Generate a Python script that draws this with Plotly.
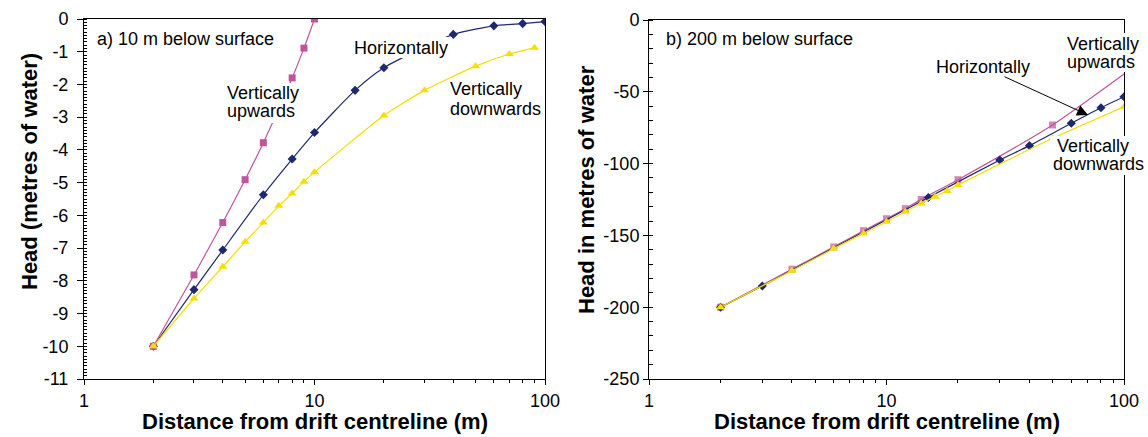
import plotly.graph_objects as go

W, H = 1148, 437

# ---------------- data: a) 10 m below surface ----------------
up_x_a = [2, 3, 4, 5, 6, 8, 9, 10]
up_y_a = [-10, -7.82, -6.22, -4.91, -3.78, -1.80, -0.89, 0]
hor_x_a = [2, 3, 4, 6, 8, 10, 15, 20, 40, 60, 80, 100]
hor_y_a = [-10, -8.27, -7.06, -5.37, -4.28, -3.47, -2.18, -1.49, -0.47, -0.21, -0.14, -0.08]
down_x_a = [2, 3, 4, 5, 6, 7, 8, 9, 10, 20, 30, 50, 70, 90]
down_y_a = [-10, -8.54, -7.57, -6.81, -6.22, -5.71, -5.33, -4.97, -4.68, -2.95, -2.18, -1.44, -1.07, -0.88]

# ---------------- data: b) 200 m below surface ----------------
up_x_b = [2, 4, 6, 8, 10, 12, 14, 20, 50, 100]
up_y_b = [-200, -173.5, -158.0, -146.7, -138.4, -131.4, -124.9, -111.2, -73.1, -37.6]
up_marker_b = [1, 1, 1, 1, 1, 1, 1, 1, 1, 0]   # no marker drawn at the line end
hor_x_b = [2, 3, 15, 30, 40, 60, 80, 100]
hor_y_b = [-200, -185.2, -123.6, -97.5, -87.5, -71.9, -61.1, -53.4]
down_x_b = [2, 4, 6, 8, 10, 12, 14, 16, 18, 20, 50, 100]
down_y_b = [-200, -174.6, -159.2, -148.6, -140.5, -133.5, -127.7, -123.0, -119.0, -114.9, -82.4, -60.4]

x_tickvals = [1, 10, 100]
x_ticktext = ["1", "10", "100"]
x_minor = [2, 3, 4, 5, 6, 7, 8, 9, 20, 30, 40, 50, 60, 70, 80, 90]
ya_vals = list(range(0, -12, -1))
ya_text = [str(v) for v in ya_vals]
yb_vals = [0, -50, -100, -150, -200, -250]
yb_text = [str(v) for v in yb_vals]

PINK = "#C2549C"
NAVY = "#1E2870"
YELLOW = "#F4E000"
FONT = "Liberation Sans, Arial, sans-serif"

fig = go.Figure()

def add_series(x, y, color, symbol, size, xa, ya, sizes=None):
    msize = size if sizes is None else [size * s for s in sizes]
    fig.add_trace(go.Scatter(
        x=x, y=y, mode="lines+markers", xaxis=xa, yaxis=ya,
        line=dict(color=color, width=1.2, shape="spline", smoothing=0.6),
        marker=dict(color=color, symbol=symbol, size=msize, line=dict(width=0)),
        showlegend=False, hoverinfo="skip"))

add_series(hor_x_a, hor_y_a, NAVY, "diamond", 7, "x", "y")
add_series(up_x_a, up_y_a, PINK, "square", 7, "x", "y")
add_series(down_x_a, down_y_a, YELLOW, "triangle-up", 8, "x", "y")

add_series(up_x_b, up_y_b, PINK, "square", 7, "x2", "y2", sizes=up_marker_b)
add_series(hor_x_b, hor_y_b, NAVY, "diamond", 7, "x2", "y2")
add_series(down_x_b, down_y_b, YELLOW, "triangle-up", 8, "x2", "y2")

xcommon = dict(type="log", range=[0, 2], tickmode="array", tickvals=x_tickvals,
               ticktext=x_ticktext, ticks="outside", ticklen=5, tickcolor="black",
               showline=True, linecolor="black", linewidth=1, mirror=True,
               showgrid=False, zeroline=False, automargin=False,
               tickfont=dict(size=18, color="black", family=FONT),
               minor=dict(tickmode="array", tickvals=x_minor, ticks="outside",
                          ticklen=3, tickcolor="black", showgrid=False))

fig.update_layout(
    width=W, height=H, autosize=False, margin=dict(l=0, r=0, t=0, b=0, pad=0),
    paper_bgcolor="white", plot_bgcolor="white",
    font=dict(family=FONT, color="black"),
    xaxis=dict(domain=[84 / W, 545 / W], anchor="y", **xcommon),
    xaxis2=dict(domain=[649 / W, 1124 / W], anchor="y2", **xcommon),
    yaxis=dict(domain=[58 / H, 418 / H], anchor="x", range=[-11, 0],
               tickmode="array", tickvals=ya_vals, ticktext=ya_text,
               ticks="outside", ticklen=6, tickcolor="black",
               showline=True, linecolor="black", linewidth=1, mirror=True,
               showgrid=False, zeroline=False, ticklabelstandoff=5, automargin=False,
               tickfont=dict(size=18, color="black", family=FONT),
               minor=dict(dtick=0.1, ticks="inside", ticklen=3, tickcolor="black", showgrid=False)),
    yaxis2=dict(domain=[58 / H, 417 / H], anchor="x2", range=[-250, 0],
                tickmode="array", tickvals=yb_vals, ticktext=yb_text,
                ticks="outside", ticklen=5, tickcolor="black",
                showline=True, linecolor="black", linewidth=1, mirror=True,
                showgrid=False, zeroline=False, ticklabelstandoff=0, automargin=False,
                tickfont=dict(size=18, color="black", family=FONT),
                minor=dict(dtick=10, ticks="inside", ticklen=4, tickcolor="black", showgrid=False)),
)

def label(text, px, py, xanchor="left", size=18, angle=0):
    fig.add_annotation(text=text, x=px / W, y=1 - py / H, xref="paper", yref="paper",
                       xanchor=xanchor, yanchor="middle", showarrow=False,
                       textangle=angle, borderpad=0,
                       font=dict(size=size, color="black", family=FONT))

def blank(x0, y0, x1, y1):
    # white patch behind a label (hides lines, as in the original)
    fig.add_shape(type="rect", xref="paper", yref="paper", layer="above",
                  x0=x0 / W, x1=x1 / W, y0=1 - y1 / H, y1=1 - y0 / H,
                  fillcolor="white", line=dict(width=0))

# white patches behind labels
blank(350, 37, 452, 58)      # a) Horizontally
blank(223, 83, 305, 123)     # a) Vertically upwards
blank(1063, 33, 1143, 72)    # b) Vertically upwards
blank(1050, 136, 1146, 175)  # b) Vertically downwards

# panel a labels
label("a) 10 m below surface", 96, 39)
label("Horizontally", 353, 48)
label("Vertically", 226, 93)
label("upwards", 226, 111)
label("Vertically", 449, 89.5)
label("downwards", 449, 108.5)

# panel b labels
label("b) 200 m below surface", 665, 39)
label("Horizontally", 983, 67, xanchor="center")
label("Vertically", 1103, 44, xanchor="center")
label("upwards", 1101, 62, xanchor="center")
label("Vertically", 1093, 145.5, xanchor="center")
label("downwards", 1098, 164.5, xanchor="center")

# arrow pointing at the horizontal line in panel b
fig.add_annotation(text="", x=1088 / W, y=1 - 115 / H, xref="paper", yref="paper",
                   showarrow=True, ax=-85, ay=-39, arrowhead=2, arrowsize=2.2,
                   arrowwidth=1, arrowcolor="black")

# axis titles
label("<b>Head (metres of water)</b>", 29, 172, xanchor="center", size=22, angle=-90)
label("<b>Head in metres of water</b>", 587, 190, xanchor="center", size=22, angle=-90)
label("<b>Distance from drift centreline (m)</b>", 314.5, 421, xanchor="center", size=22)
label("<b>Distance from drift centreline (m)</b>", 886.5, 421, xanchor="center", size=22)

post = """
document.documentElement.style.margin='0';
document.body.style.margin='0';
document.body.style.padding='0';
document.body.style.overflow='hidden';
var gd=document.getElementById('{plot_id}');
gd.style.width='1148px'; gd.style.height='437px';
Plotly.relayout(gd,{width:1148,height:437,autosize:false});
"""

fig.write_html("out.html", post_script=post)
